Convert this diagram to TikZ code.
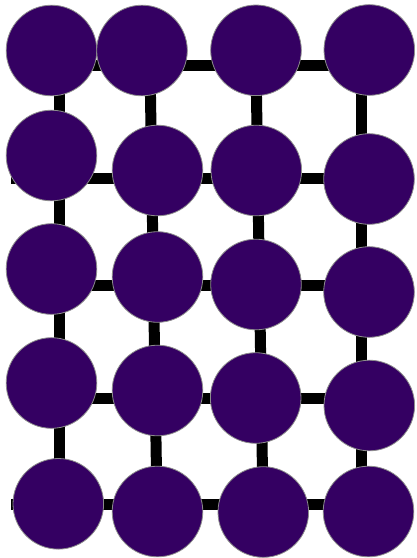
\documentclass[tikz,border=0pt]{standalone}
\definecolor{nodefill}{RGB}{52,0,98}
\definecolor{rimgray}{RGB}{140,140,140}
\begin{document}
\begin{tikzpicture}[x=1pt,y=-1pt,
  gridline/.style={line width=11pt, black},
  vert/.style={circle, fill=nodefill, draw=rimgray, line width=0.8pt, minimum size=90.6pt, inner sep=0pt}]
\useasboundingbox (0,0) rectangle (416,558);
% grid vertices
\foreach \r/\y/\xb/\xc in {1/65.5/150/256, 2/178.5/151.8/257.8, 3/285/153.5/259.5, 4/398/155.3/261.3, 5/504/157/263}{
  \coordinate (L-\r) at (11,\y);
  \coordinate (g-\r-1) at (59,\y);
  \coordinate (g-\r-2) at (\xb,\y);
  \coordinate (g-\r-3) at (\xc,\y);
  \coordinate (g-\r-4) at (361.5,\y);
}
\foreach \r in {1,...,5}{
  \draw[gridline] (L-\r) -- (g-\r-1) -- (g-\r-2) -- (g-\r-3) -- (g-\r-4);
}
\foreach \c in {1,...,4}{
  \draw[gridline] (g-1-\c) -- (g-2-\c) -- (g-3-\c) -- (g-4-\c) -- (g-5-\c);
}
% nodes
\node[vert] (n-1-1) at (51.5,50.5) {};
\node[vert] (n-1-2) at (142,50.5) {};
\node[vert] (n-1-3) at (256,50.3) {};
\node[vert] (n-1-4) at (369.3,50) {};
\node[vert] (n-2-1) at (51.5,155.5) {};
\node[vert] (n-2-2) at (157.5,170.5) {};
\node[vert] (n-2-3) at (256.3,170.5) {};
\node[vert] (n-2-4) at (369,179) {};
\node[vert] (n-3-1) at (51.5,269) {};
\node[vert] (n-3-2) at (157.5,277) {};
\node[vert] (n-3-3) at (256,284.5) {};
\node[vert] (n-3-4) at (369,292) {};
\node[vert] (n-4-1) at (51.5,383) {};
\node[vert] (n-4-2) at (157.5,390.5) {};
\node[vert] (n-4-3) at (255.7,398) {};
\node[vert] (n-4-4) at (369.3,405.5) {};
\node[vert] (n-5-1) at (58.3,503.8) {};
\node[vert] (n-5-2) at (157.5,511.5) {};
\node[vert] (n-5-3) at (263.3,512) {};
\node[vert] (n-5-4) at (368.5,511.5) {};
\end{tikzpicture}
\end{document}
